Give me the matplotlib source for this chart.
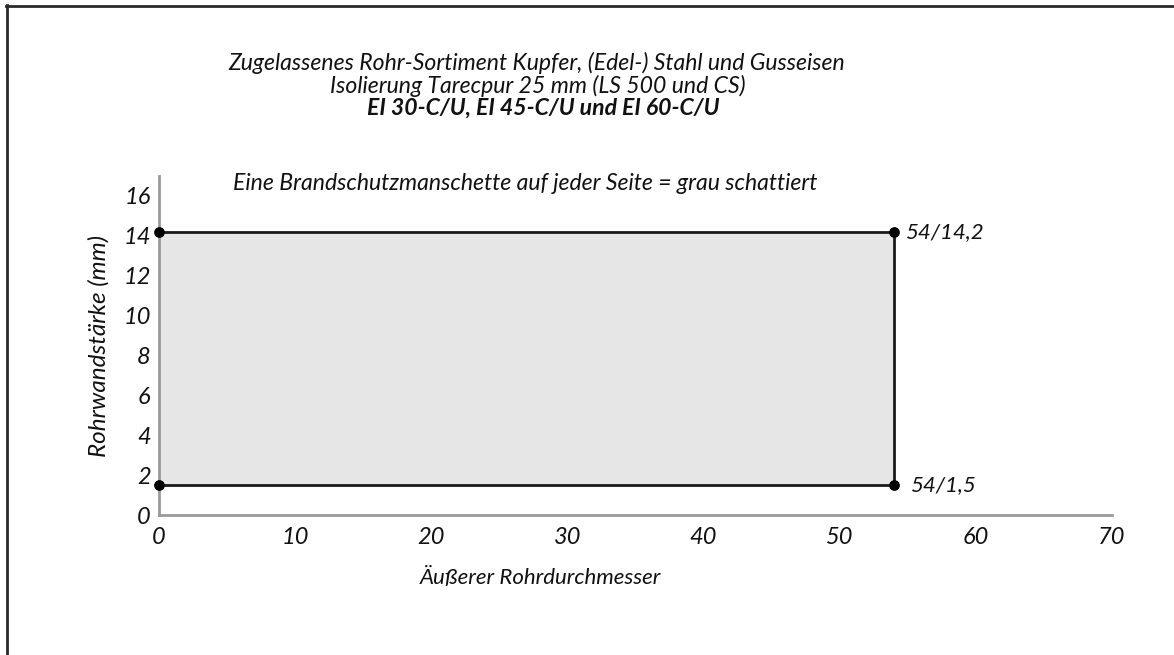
import matplotlib
matplotlib.use("Agg")
import matplotlib.pyplot as plt
from matplotlib.lines import Line2D

# Data
x_min_d, x_max_d = 0, 54          # outer pipe diameter range
y_min_w, y_max_w = 1.5, 14.2      # wall thickness range
pt_x = [0, 0, 54, 54]
pt_y = [14.2, 1.5, 14.2, 1.5]
pt_labels = ["", "", "54/14,2", "54/1,5"]
x_ticks = [0, 10, 20, 30, 40, 50, 60, 70]
y_ticks = [0, 2, 4, 6, 8, 10, 12, 14, 16]
titles = ["Zugelassenes Rohr-Sortiment Kupfer, (Edel-) Stahl und Gusseisen",
          "Isolierung Tarecpur 25 mm (LS 500 und CS)",
          "EI 30-C/U, EI 45-C/U und EI 60-C/U"]
note = "Eine Brandschutzmanschette auf jeder Seite = grau schattiert"
xlabel = "Äußerer Rohrdurchmesser"
ylabel = "Rohrwandstärke (mm)"

plt.rcParams['font.family'] = ['Lato', 'DejaVu Sans']
W, H = 1174, 655
fig = plt.figure(figsize=(W / 100, H / 100), dpi=100)

def fx(px):
    return px / W

def fy(py):
    return 1 - py / H

ax = fig.add_axes([fx(159), fy(515), fx(1112) - fx(159), fy(176) - fy(515)])
ax.set_xlim(0, 70)
ax.set_ylim(0, 17)

# shaded region
ax.fill_between([x_min_d, x_max_d], y_min_w, y_max_w, color="#e6e6e6", lw=0, zorder=1)
ax.plot([x_min_d, x_max_d], [y_min_w, y_min_w], color="#1a1a1a", lw=2, zorder=2)
ax.plot([x_min_d, x_max_d], [y_max_w, y_max_w], color="#1a1a1a", lw=2, zorder=2)
ax.plot([x_max_d, x_max_d], [y_min_w, y_max_w], color="#1a1a1a", lw=2, zorder=2)
ax.scatter(pt_x, pt_y, s=45, color="black", zorder=5, clip_on=False)
offsets = [0, 0, 8, 11.5]
for x, y, lab, off in zip(pt_x, pt_y, pt_labels, offsets):
    if lab:
        ax.annotate(lab, (x, y), xytext=(off, 0), textcoords="offset points",
                    ha="left", va="center", fontsize=16, style="italic", color="#111")

for s in ["top", "right"]:
    ax.spines[s].set_visible(False)
for s in ["left", "bottom"]:
    ax.spines[s].set_color("#9a9a9a")
    ax.spines[s].set_linewidth(2)
    ax.spines[s].set_zorder(3)

ax.set_xticks(x_ticks)
ax.set_yticks(y_ticks)
ax.tick_params(length=0, labelsize=17, colors="#111")
ax.tick_params(axis="y", pad=6)
ax.tick_params(axis="x", pad=9)
for lab in ax.get_xticklabels() + ax.get_yticklabels():
    lab.set_style("italic")

fig.text(fx(540), fy(577), xlabel, ha="center", va="center", fontsize=16, style="italic", color="#111")
fig.text(fx(99), fy(346), ylabel, ha="center", va="center", fontsize=17.5, style="italic",
         rotation=90, color="#111")

fs = 16.6
fig.text(fx(537), fy(63), titles[0], ha="center", va="center", fontsize=fs, style="italic", color="#111")
fig.text(fx(538), fy(86), titles[1], ha="center", va="center", fontsize=fs, style="italic", color="#111")
fig.text(fx(543), fy(108), titles[2], ha="center", va="center", fontsize=fs, style="italic",
         weight="bold", color="#111")
fig.text(fx(525), fy(183), note, ha="center", va="center", fontsize=fs, style="italic", color="#111")

# frame lines (top and left)
fig.add_artist(Line2D([fx(6), 1], [fy(5.5), fy(5.5)], color="#2a2a2a", lw=2))
fig.add_artist(Line2D([fx(6.5), fx(6.5)], [fy(5), 0], color="#2a2a2a", lw=2))

fig.savefig("out.png", dpi=100)
